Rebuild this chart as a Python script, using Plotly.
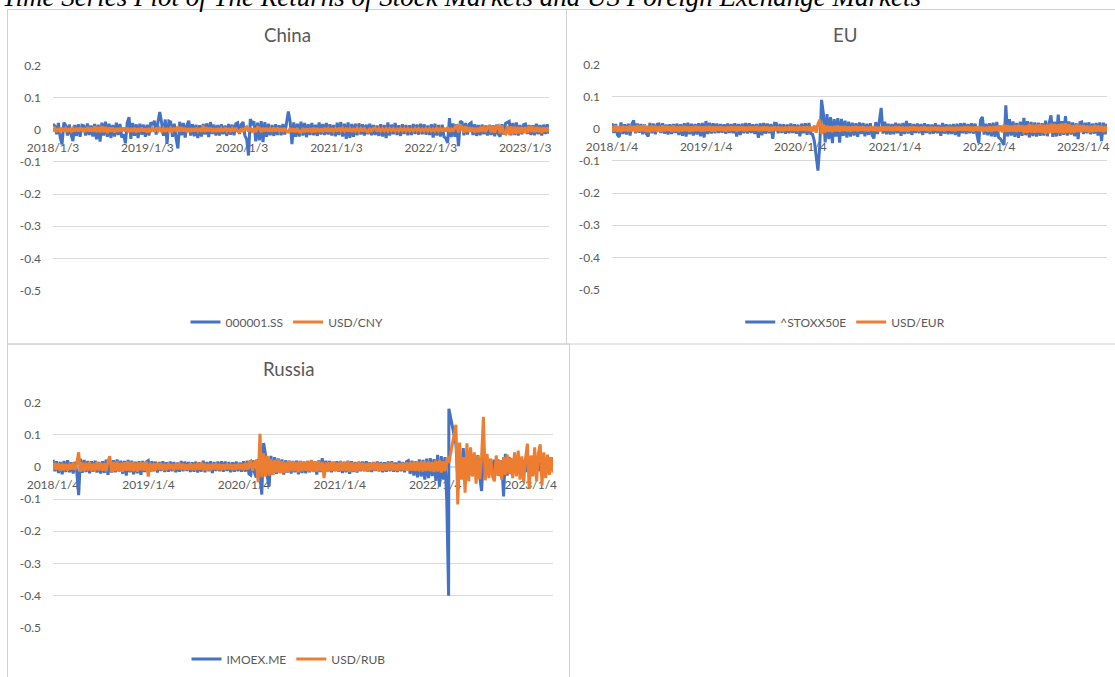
import pandas as pd
import plotly.graph_objects as go

# ---------------------------------------------------------------- data
# Weekly-sampled log returns (one value per week, first value on the start date)

# China: Shanghai Composite and USD/CNY, weekly from 2018-01-03
china_index = [
    0.018, 0.012, -0.014, 0.021, -0.025, -0.045, 0.022, 0.014, -0.018, 0.016, -0.015, -0.035, 0.015,
    -0.019, 0.017, -0.022, 0.014, 0.012, -0.018, 0.020, -0.016, 0.013, -0.021, 0.018, -0.030, 0.016,
    -0.037, 0.022, -0.018, 0.025, -0.022, 0.019, -0.026, 0.015, -0.021, 0.022, -0.016, 0.018, -0.024,
    -0.014, -0.042, 0.022, 0.039, -0.028, 0.021, -0.019, 0.017, -0.026, 0.019, -0.015, 0.016, -0.022,
    0.016, -0.018, 0.023, 0.015, 0.028, -0.015, 0.025, 0.055, 0.022, -0.019, 0.032, -0.044, 0.027,
    0.024, -0.022, 0.019, -0.027, -0.058, 0.025, -0.017, 0.021, -0.024, 0.015, 0.028, -0.018, 0.017,
    -0.020, 0.016, -0.026, 0.014, -0.021, 0.018, -0.015, 0.020, -0.023, 0.024, -0.013, 0.016, -0.018,
    0.015, -0.018, 0.017, -0.014, 0.013, -0.019, 0.018, -0.015, 0.016, -0.017, 0.019, 0.022, -0.013,
    0.017, 0.024, -0.018, -0.030, -0.080, 0.033, 0.019, 0.026, -0.036, 0.022, -0.033, 0.027, -0.038,
    0.024, -0.022, 0.019, -0.017, 0.015, -0.019, 0.017, -0.016, 0.014, -0.017, 0.018, -0.015, 0.021,
    0.057, 0.025, -0.045, 0.023, -0.022, 0.019, -0.021, 0.025, -0.018, 0.021, -0.023, 0.017, -0.016,
    0.021, -0.017, 0.016, -0.019, 0.023, -0.015, 0.018, -0.016, 0.021, -0.015, 0.017, -0.018, 0.015,
    -0.020, 0.022, -0.016, 0.024, -0.021, 0.019, -0.028, 0.023, -0.025, 0.018, -0.022, 0.019, -0.017,
    0.020, -0.015, 0.017, -0.018, 0.016, -0.014, 0.019, -0.017, 0.015, -0.016, 0.013, -0.019, 0.017,
    -0.021, 0.015, -0.026, 0.023, -0.018, 0.016, -0.014, 0.021, -0.016, 0.014, -0.019, 0.017, -0.013,
    0.015, -0.017, 0.014, -0.016, 0.018, -0.013, 0.016, -0.015, 0.019, -0.014, 0.017, -0.015, 0.013,
    -0.016, 0.017, -0.024, 0.019, -0.018, 0.015, -0.021, 0.016, -0.022, -0.026, -0.041, 0.036, -0.023,
    0.020, -0.022, 0.017, -0.051, 0.027, 0.023, -0.017, 0.021, -0.015, 0.018, 0.022, -0.016, 0.017,
    -0.019, 0.015, -0.017, 0.016, -0.014, 0.013, -0.018, 0.015, -0.016, 0.014, -0.020, 0.016, -0.013,
    -0.021, 0.017, -0.015, 0.020, 0.023, 0.026, -0.017, 0.021, -0.016, 0.023, -0.018, 0.015, -0.014,
    0.016, 0.018, -0.013, 0.015, -0.016, 0.014, -0.017, 0.019, -0.014, 0.015, -0.018, 0.016, -0.013, 0.017, -0.012,
]
china_fx = [
    -0.005, 0.004, -0.006, 0.005, -0.004, 0.006, -0.005, 0.004, -0.006, 0.005, -0.004, 0.005, -0.005,
    0.006, -0.005, 0.007, -0.004, 0.005, -0.006, 0.008, -0.005, 0.007, -0.006, 0.010, -0.007, 0.009,
    -0.008, 0.011, -0.007, 0.009, -0.010, 0.008, -0.006, 0.007, -0.008, 0.005, -0.006, 0.006, -0.005,
    0.007, -0.005, 0.006, -0.007, 0.005, -0.006, 0.006, -0.008, 0.005, -0.006, 0.007, -0.005, 0.004,
    -0.008, 0.005, -0.006, 0.004, -0.005, 0.006, -0.004, 0.005, -0.005, 0.004, -0.006, 0.005, -0.004,
    0.005, -0.004, 0.006, -0.005, 0.011, -0.006, 0.008, -0.005, 0.006, -0.007, 0.005, -0.006, 0.005,
    -0.005, 0.006, -0.004, 0.005, -0.006, 0.013, -0.007, 0.008, -0.005, 0.006, -0.007, 0.005, -0.006,
    0.005, -0.006, 0.004, -0.005, 0.006, -0.004, 0.005, -0.006, 0.004, -0.005, 0.006, -0.005, -0.007,
    0.004, -0.006, 0.005, 0.009, -0.005, 0.006, -0.004, 0.005, -0.007, 0.008, 0.006, -0.007, 0.006,
    -0.005, 0.006, -0.005, 0.004, -0.006, 0.007, -0.005, 0.006, -0.004, 0.005, -0.006, 0.005, -0.006,
    -0.007, 0.005, -0.006, 0.004, -0.007, 0.005, -0.006, -0.008, 0.005, -0.007, 0.004, -0.006, 0.005,
    -0.008, 0.006, -0.007, 0.005, -0.006, 0.004, -0.007, 0.006, -0.005, 0.004, -0.006, 0.005, -0.005,
    0.004, -0.005, 0.006, -0.004, 0.005, -0.004, 0.006, -0.005, 0.004, -0.006, 0.005, -0.004, 0.005,
    -0.005, 0.004, -0.005, 0.006, -0.004, -0.007, 0.005, -0.006, 0.004, 0.006, -0.005, 0.004, -0.004,
    0.004, -0.003, 0.004, -0.004, 0.004, -0.003, 0.004, -0.004, 0.003, -0.004, 0.004, -0.003, 0.004,
    -0.004, 0.004, -0.004, 0.003, -0.004, 0.004, -0.003, 0.004, -0.004, 0.003, -0.004, 0.004, -0.004,
    0.004, -0.004, 0.003, -0.004, 0.005, -0.004, 0.004, -0.005, 0.006, -0.005, 0.008, -0.006, 0.005,
    -0.005, 0.007, 0.012, -0.008, 0.014, 0.010, -0.009, 0.011, -0.007, 0.008, -0.006, 0.007, -0.008,
    0.006, -0.007, 0.009, -0.006, 0.010, -0.007, 0.008, 0.011, -0.008, 0.012, -0.009, 0.010, 0.013,
    -0.011, 0.014, -0.010, -0.013, 0.012, -0.016, 0.011, -0.014, 0.010, -0.012, 0.009, -0.011, 0.008,
    -0.010, 0.008, -0.009, 0.011, -0.007, 0.010, -0.008, 0.009, -0.007, 0.008, -0.010, 0.007, -0.006, 0.008, -0.007,
]

# EU: EURO STOXX 50 and USD/EUR, weekly from 2018-01-04
eu_index = [
    0.017, -0.013, 0.015, -0.019, -0.026, 0.020, -0.016, 0.014, -0.018, 0.016, -0.021, 0.015, 0.026,
    -0.014, 0.016, -0.012, 0.015, -0.017, 0.013, -0.015, -0.024, 0.018, -0.014, 0.016, -0.017, 0.014,
    0.015, -0.013, 0.017, -0.015, 0.013, -0.018, 0.014, -0.016, 0.015, -0.013, 0.016, -0.019, 0.014,
    -0.022, 0.017, -0.024, 0.019, -0.017, 0.016, -0.021, 0.015, -0.018, 0.017, -0.023, 0.018, -0.027,
    0.024, -0.016, 0.019, -0.015, 0.017, -0.014, 0.016, -0.013, 0.015, -0.012, 0.014, -0.015, 0.016,
    -0.013, 0.015, -0.014, 0.017, -0.024, 0.015, -0.019, 0.016, -0.014, 0.018, -0.015, 0.017, -0.013,
    0.014, -0.016, 0.015, -0.028, 0.017, -0.020, 0.018, -0.015, 0.016, -0.014, 0.015, -0.031, 0.017,
    0.016, -0.014, 0.015, -0.013, 0.014, -0.015, 0.013, -0.014, 0.016, -0.013, 0.014, -0.015, 0.013,
    -0.023, 0.016, -0.014, 0.017, -0.019, 0.018, -0.015, -0.017, -0.038, -0.085, -0.130, -0.052, 0.090,
    0.048, -0.042, 0.046, -0.032, 0.036, -0.045, 0.030, -0.024, 0.033, -0.043, 0.031, -0.022, 0.025,
    -0.027, 0.022, -0.024, 0.019, -0.021, 0.017, -0.025, 0.020, -0.016, 0.018, -0.023, 0.016, -0.019,
    0.017, -0.020, -0.030, 0.021, -0.016, 0.024, 0.065, -0.015, 0.022, -0.017, 0.016, -0.018, 0.015,
    -0.017, 0.019, -0.014, 0.016, -0.022, 0.018, -0.016, 0.024, -0.015, 0.017, -0.019, 0.015, -0.013,
    0.016, -0.014, 0.015, -0.019, 0.017, -0.013, 0.014, -0.016, 0.013, -0.015, 0.017, -0.014, 0.012,
    -0.022, 0.018, -0.015, 0.014, -0.017, 0.013, -0.016, 0.015, -0.019, 0.016, -0.024, 0.017, -0.014,
    0.018, -0.016, 0.015, -0.014, 0.017, -0.015, 0.016, -0.018, -0.045, 0.027, 0.037, -0.018, 0.016,
    -0.020, 0.017, -0.023, 0.019, -0.025, 0.021, -0.027, -0.031, -0.041, -0.050, 0.073, -0.024, 0.030,
    -0.021, 0.023, -0.025, 0.018, -0.028, 0.022, -0.022, 0.034, -0.020, 0.024, -0.027, 0.021, -0.023,
    0.020, -0.024, 0.019, -0.022, 0.017, -0.021, 0.025, -0.023, 0.018, 0.042, -0.025, 0.022, -0.024,
    0.044, -0.022, 0.024, -0.019, 0.039, -0.021, 0.023, -0.018, 0.020, -0.023, 0.017, -0.032, 0.019,
    0.021, -0.016, 0.019, -0.014, 0.020, -0.017, 0.016, -0.015, 0.018, -0.021, 0.020, -0.038, 0.019, -0.017, 0.016,
]
eu_fx = [
    0.009, -0.008, 0.010, -0.009, 0.008, -0.010, 0.009, -0.007, 0.008, -0.009, 0.010, -0.008, 0.009,
    -0.010, 0.011, -0.009, 0.010, -0.008, 0.012, -0.010, 0.009, -0.011, 0.010, -0.008, 0.009, -0.009,
    0.008, -0.009, 0.010, -0.008, 0.009, -0.007, 0.008, -0.009, 0.010, -0.008, 0.007, -0.009, 0.008,
    -0.008, 0.009, -0.007, 0.008, -0.009, 0.007, -0.008, 0.009, -0.007, 0.008, -0.008, 0.007, -0.008,
    0.008, -0.007, 0.009, -0.008, 0.007, -0.008, 0.007, -0.006, 0.008, -0.007, 0.006, -0.008, 0.007,
    -0.007, 0.008, -0.006, 0.007, -0.008, 0.007, -0.006, 0.008, -0.007, 0.006, -0.007, 0.008, -0.006,
    0.007, -0.006, 0.008, -0.007, 0.006, -0.007, 0.008, -0.006, 0.007, -0.008, 0.006, -0.007, 0.007,
    -0.006, 0.007, -0.007, 0.006, -0.007, 0.006, -0.006, 0.007, -0.006, 0.007, -0.006, 0.006, -0.007,
    0.007, -0.006, 0.007, -0.007, 0.008, -0.007, 0.006, -0.008, 0.010, -0.012, 0.015, 0.028, -0.016,
    0.013, -0.011, 0.010, -0.009, 0.008, -0.010, 0.009, -0.008, 0.010, -0.009, 0.008, -0.007, 0.009,
    -0.008, 0.007, -0.009, 0.008, -0.007, 0.009, -0.008, 0.007, -0.006, 0.008, -0.007, 0.006, -0.007,
    0.007, -0.006, 0.008, -0.007, 0.006, -0.008, 0.007, -0.006, 0.007, -0.006, 0.008, -0.007, 0.006,
    -0.007, 0.008, -0.006, 0.007, -0.008, 0.006, -0.007, 0.006, -0.008, 0.007, -0.006, 0.007, -0.006,
    0.006, -0.007, 0.006, -0.005, 0.007, -0.006, 0.005, -0.007, 0.006, -0.005, 0.006, -0.006, 0.005,
    -0.006, 0.005, -0.007, 0.006, -0.005, 0.006, -0.006, 0.005, -0.007, 0.006, -0.005, 0.006, -0.006,
    0.007, -0.006, 0.008, -0.007, 0.006, -0.008, 0.007, -0.006, 0.008, -0.007, 0.006, -0.007, 0.006,
    -0.008, 0.007, -0.009, 0.008, -0.007, 0.009, -0.008, 0.010, -0.011, 0.013, -0.010, 0.011, -0.009,
    0.010, -0.009, 0.011, -0.010, 0.012, -0.009, 0.011, -0.013, 0.010, -0.012, 0.014, -0.011, 0.012,
    -0.012, 0.013, -0.011, 0.014, -0.013, 0.012, -0.015, 0.013, -0.014, 0.016, -0.013, 0.015, -0.012,
    0.014, -0.013, 0.016, -0.014, 0.017, -0.012, 0.015, -0.013, 0.011, -0.012, 0.013, -0.010, 0.011,
    -0.010, 0.011, -0.009, 0.010, -0.011, 0.009, -0.010, 0.011, -0.009, 0.010, -0.008, 0.009, -0.010, 0.008, -0.009,
]

# Russia: MOEX index and USD/RUB, weekly from 2018-01-04 to the 2022-02-24/25
# sessions, then weekly again from 2022-03-24 after the exchange reopened
ru_index_pre = [
    0.022, -0.014, 0.017, -0.019, 0.015, -0.023, 0.018, -0.016, 0.020, -0.017, 0.014, -0.021, 0.016,
    -0.017, -0.088, 0.025, -0.019, 0.021, -0.016, 0.018, -0.020, 0.017, -0.015, 0.019, -0.018, 0.015,
    -0.021, 0.017, -0.019, 0.022, -0.025, 0.016, -0.018, 0.020, -0.017, 0.023, -0.015, 0.019, -0.022,
    0.018, -0.027, 0.021, -0.017, 0.019, -0.023, 0.016, -0.020, 0.017, -0.025, 0.018, -0.016, 0.015,
    0.019, -0.015, 0.017, -0.014, 0.016, -0.018, 0.015, -0.013, 0.017, -0.016, 0.014, -0.015, 0.016,
    -0.014, 0.015, -0.017, 0.013, -0.015, 0.018, -0.014, 0.016, -0.013, 0.015, -0.016, 0.014, -0.015,
    0.016, -0.018, 0.014, -0.015, 0.019, -0.017, 0.015, -0.014, 0.017, -0.019, 0.015, -0.013, 0.016,
    -0.014, 0.017, -0.015, 0.016, -0.013, 0.015, -0.017, 0.014, -0.015, 0.016, -0.014, 0.013, -0.015,
    0.017, -0.015, 0.019, -0.022, -0.026, 0.020, -0.018, -0.033, 0.024, -0.036, -0.086, 0.074, 0.038,
    -0.031, -0.060, 0.034, -0.025, 0.030, -0.022, 0.026, -0.019, 0.023, -0.024, 0.020, -0.018, 0.019,
    -0.021, 0.018, -0.017, 0.019, -0.023, 0.017, -0.019, 0.016, -0.020, 0.018, -0.017, 0.019, -0.015,
    0.017, -0.024, 0.020, -0.016, 0.027, -0.018, 0.019, -0.015, 0.018, -0.017, 0.016, -0.014, 0.017,
    -0.015, 0.018, -0.019, 0.016, -0.017, 0.019, -0.022, 0.017, -0.016, 0.015, -0.018, 0.016, -0.014,
    0.016, -0.014, 0.017, -0.015, 0.014, -0.016, 0.015, -0.013, 0.016, -0.014, 0.015, -0.017, 0.014,
    -0.015, 0.016, -0.014, 0.017, -0.015, 0.013, -0.016, 0.018, -0.014, 0.015, -0.017, 0.016, 0.019,
    -0.022, 0.019, -0.027, 0.017, -0.033, 0.023, -0.030, 0.021, -0.040, 0.025, -0.035, 0.027, -0.029,
    0.024, -0.044, 0.037, -0.062, 0.033, -0.040, 0.030, -0.105, -0.400, 0.180,
]
ru_index_post = [
    0.070, -0.034, 0.028, -0.030, 0.058, -0.038, 0.031, -0.025, 0.033, -0.029, 0.026, -0.022, 0.036,
    -0.031, -0.075, 0.030, -0.024, 0.027, -0.021, 0.024, -0.026, 0.022, -0.019, 0.023, -0.029, 0.020,
    -0.092, 0.040, -0.027, 0.031, -0.023, 0.021, -0.019, 0.024, -0.021, 0.018, -0.017, 0.020, -0.016,
    0.018, -0.019, 0.016, -0.015, 0.018, -0.016, 0.015, -0.014, 0.017, -0.015, 0.014, -0.013, 0.016,
    0.028, 0.018,
]
ru_fx_pre = [
    -0.010, 0.012, -0.009, 0.011, -0.013, 0.010, -0.011, 0.009, -0.012, 0.010, -0.009, 0.013, -0.010,
    0.011, 0.045, -0.015, 0.013, -0.014, 0.012, -0.011, 0.014, -0.013, 0.010, -0.012, 0.015, -0.011,
    0.013, -0.012, 0.011, -0.014, 0.016, 0.033, -0.017, 0.015, -0.013, 0.016, -0.014, 0.012, -0.016,
    0.014, -0.012, 0.016, -0.013, 0.015, -0.014, 0.012, -0.015, 0.013, -0.011, 0.014, -0.012, 0.016,
    -0.030, 0.012, -0.014, 0.010, -0.011, 0.013, -0.009, 0.011, -0.012, 0.009, -0.010, 0.011, -0.008,
    0.009, -0.011, 0.010, -0.008, 0.012, -0.009, 0.010, -0.011, 0.008, -0.009, 0.011, -0.010, 0.009,
    -0.010, 0.012, -0.009, 0.014, -0.011, 0.010, -0.012, 0.009, -0.011, 0.010, -0.009, 0.011, -0.010,
    0.009, -0.010, 0.008, -0.009, 0.010, -0.008, 0.009, -0.010, 0.008, -0.009, 0.010, -0.008, 0.009,
    -0.010, 0.012, -0.009, 0.014, 0.018, -0.012, 0.015, 0.020, -0.048, 0.102, -0.032, 0.042, -0.030,
    0.034, -0.027, 0.024, -0.025, 0.021, -0.018, 0.023, -0.020, 0.017, -0.019, 0.015, -0.016, 0.018,
    -0.014, 0.016, -0.013, 0.015, -0.017, 0.019, -0.014, 0.016, -0.012, 0.018, -0.015, 0.021, -0.016,
    0.017, -0.015, 0.019, -0.014, 0.015, -0.035, 0.013, -0.015, 0.014, -0.012, 0.015, -0.013, 0.012,
    -0.014, 0.016, -0.012, 0.015, -0.013, 0.017, -0.015, 0.013, -0.014, 0.012, -0.015, 0.014, -0.011,
    0.012, -0.013, 0.011, -0.014, 0.012, -0.010, 0.013, -0.011, 0.012, -0.014, 0.011, -0.012, 0.010,
    -0.011, 0.012, -0.010, 0.013, -0.011, 0.009, -0.012, 0.011, -0.010, 0.012, -0.011, 0.013, -0.012,
    0.014, -0.012, 0.016, -0.013, 0.015, -0.014, 0.017, -0.015, 0.018, -0.013, 0.016, -0.014, 0.015,
    -0.016, 0.019, -0.015, 0.021, -0.018, 0.017, -0.014, 0.022, 0.030, 0.012,
]
ru_fx_post = [
    0.130, -0.117, 0.075, -0.040, 0.030, -0.080, 0.073, -0.045, 0.060, -0.030, 0.045, -0.052, 0.035,
    -0.038, 0.028, 0.155, -0.042, 0.040, -0.035, 0.025, -0.030, -0.045, 0.035, -0.028, 0.020, -0.040,
    0.030, -0.025, 0.038, -0.022, 0.028, -0.035, 0.045, -0.030, 0.050, -0.040, 0.032, -0.048, 0.025,
    0.072, -0.068, 0.035, -0.030, 0.060, -0.045, 0.040, 0.070, -0.058, 0.045, -0.035, 0.038, -0.025,
    0.030, -0.018,
]

y_tick_values = [0.2, 0.1, 0, -0.1, -0.2, -0.3, -0.4, -0.5]
y_tick_text = ["0.2", "0.1", "0", "-0.1", "-0.2", "-0.3", "-0.4", "-0.5"]

china_x_ticks = ["2018-01-03", "2019-01-03", "2020-01-03", "2021-01-03", "2022-01-03", "2023-01-03"]
china_x_text = ["2018/1/3", "2019/1/3", "2020/1/3", "2021/1/3", "2022/1/3", "2023/1/3"]
eu_x_ticks = ["2018-01-04", "2019-01-04", "2020-01-04", "2021-01-04", "2022-01-04", "2023-01-04"]
eu_x_text = ["2018/1/4", "2019/1/4", "2020/1/4", "2021/1/4", "2022/1/4", "2023/1/4"]
ru_x_ticks = eu_x_ticks
ru_x_text = eu_x_text

# ---------------------------------------------------------------- dates
def weekly(start, n):
    return list(pd.date_range(start, periods=n, freq="7D"))


def russia_dates(pre, post):
    before = list(pd.date_range(end="2022-02-24", periods=len(pre) - 1, freq="7D"))
    before.append(pd.Timestamp("2022-02-25"))
    return before + weekly("2022-03-24", len(post))


china_idx_dates = weekly("2018-01-03", len(china_index))
china_fx_dates = weekly("2018-01-03", len(china_fx))
eu_idx_dates = weekly("2018-01-04", len(eu_index))
eu_fx_dates = weekly("2018-01-04", len(eu_fx))
ru_idx_dates = russia_dates(ru_index_pre, ru_index_post)
ru_fx_dates = russia_dates(ru_fx_pre, ru_fx_post)
ru_index = ru_index_pre + ru_index_post
ru_fx = ru_fx_pre + ru_fx_post

# ---------------------------------------------------------------- layout helpers
W, H = 1115, 677
BLUE, ORANGE = "#4472C4", "#ED7D31"
TEXT = "#595959"
GRID = "#D9D9D9"
FONT = "Lato"


def px_x(p):
    return p / W


def px_y(p):
    return 1 - p / H


panels = [
    dict(title="China", idx=(china_idx_dates, china_index, "000001.SS"),
         fx=(china_fx_dates, china_fx, "USD/CNY"), ticks=china_x_ticks, labels=china_x_text,
         area=(53, 549, 65.5, 290.5), frame=(7.5, 566.5, 9.5, 344), legend_y=322),
    dict(title="EU", idx=(eu_idx_dates, eu_index, "^STOXX50E"),
         fx=(eu_fx_dates, eu_fx, "USD/EUR"), ticks=eu_x_ticks, labels=eu_x_text,
         area=(612, 1107, 64.5, 289.5), frame=(566.5, 1124, 9.5, 344), legend_y=322),
    dict(title="Russia", idx=(ru_idx_dates, ru_index, "IMOEX.ME"),
         fx=(ru_fx_dates, ru_fx, "USD/RUB"), ticks=ru_x_ticks, labels=ru_x_text,
         area=(53, 553, 402.3, 628), frame=(7.5, 569.5, 344, 690), legend_y=659),
]

fig = go.Figure()
layout = dict(
    width=W, height=H,
    margin=dict(l=0, r=0, t=0, b=0, autoexpand=False),
    paper_bgcolor="white", plot_bgcolor="white",
    font=dict(family=FONT, size=12, color=TEXT),
    showlegend=True,
)
shapes, annotations = [], []

Y_MIN, Y_MAX = -0.5, 0.2

for i, p in enumerate(panels, start=1):
    xa = "x" if i == 1 else f"x{i}"
    ya = "y" if i == 1 else f"y{i}"
    lg = "legend" if i == 1 else f"legend{i}"
    x0, x1, ytop, ybot = p["area"]
    dom_y = [px_y(ybot), px_y(ytop)]
    zero_pos = dom_y[0] + (0 - Y_MIN) / (Y_MAX - Y_MIN) * (dom_y[1] - dom_y[0])

    for (dates, vals, name), color in ((p["idx"], BLUE), (p["fx"], ORANGE)):
        fig.add_trace(go.Scatter(
            x=dates, y=vals, name=name, mode="lines", xaxis=xa, yaxis=ya, legend=lg,
            line=dict(color=color, width=3), hoverinfo="skip",
        ))

    all_dates = p["idx"][0] + p["fx"][0]
    layout["xaxis" if i == 1 else f"xaxis{i}"] = dict(
        domain=[px_x(x0), px_x(x1)], anchor="free", position=zero_pos,
        type="date", range=[min(all_dates), max(all_dates)],
        tickmode="array", tickvals=p["ticks"], ticktext=p["labels"],
        showgrid=False, zeroline=False, showline=True, linecolor=GRID, linewidth=1,
        ticks="", ticklabelstandoff=7, tickfont=dict(family=FONT, size=12, color=TEXT),
        layer="below traces", fixedrange=True, automargin=False,
    )
    layout["yaxis" if i == 1 else f"yaxis{i}"] = dict(
        domain=dom_y, anchor=xa, range=[Y_MIN, Y_MAX],
        tickmode="array", tickvals=y_tick_values, ticktext=y_tick_text,
        showgrid=True, gridcolor=GRID, gridwidth=1, zeroline=False, showline=False,
        ticks="", ticklabelstandoff=11, tickfont=dict(family=FONT, size=12, color=TEXT),
        fixedrange=True, automargin=False,
    )

    fx0, fx1, fy0, fy1 = p["frame"]
    shapes.append(dict(type="rect", xref="paper", yref="paper",
                       x0=px_x(fx0), x1=px_x(fx1), y0=px_y(fy1), y1=px_y(fy0),
                       line=dict(color="#D0D0D0", width=1), fillcolor="rgba(0,0,0,0)", layer="below"))
    center = (fx0 + fx1) / 2
    annotations.append(dict(text=p["title"], xref="paper", yref="paper",
                            x=px_x(center), y=px_y(fy0 + 25), xanchor="center", yanchor="middle",
                            showarrow=False, font=dict(family=FONT, size=18.67, color=TEXT)))
    layout[lg] = dict(orientation="h", x=px_x(center), xanchor="center",
                      y=px_y(p["legend_y"]), yanchor="middle",
                      bgcolor="rgba(0,0,0,0)", font=dict(family=FONT, size=12, color=TEXT),
                      itemwidth=30, traceorder="normal")

annotations.append(dict(
    text="<i>Time Series Plot of The Returns of Stock Markets and US Foreign Exchange Markets</i>",
    xref="paper", yref="paper", x=0, y=px_y(-3), xanchor="left", yanchor="middle",
    showarrow=False, font=dict(family="Liberation Serif", size=27, color="black"),
))

layout["shapes"] = shapes
layout["annotations"] = annotations
fig.update_layout(**layout)
fig.write_html("out.html")
